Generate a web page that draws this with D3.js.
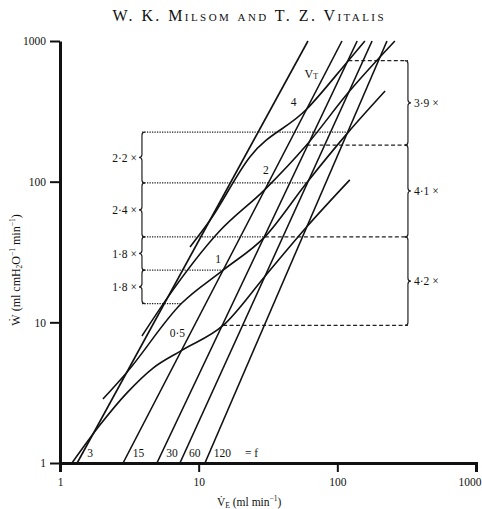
<!DOCTYPE html>
<html>
<head>
<meta charset="utf-8">
<script src="https://cdnjs.cloudflare.com/ajax/libs/d3/7.8.5/d3.min.js"></script>
<style>
  body { margin: 0; background: #fff; }
  svg { display: block; }
  text { font-family: "Liberation Serif", "DejaVu Serif", serif; fill: #111; }
</style>
</head>
<body>
<script>
// iso-frequency lines: VE where W = 1 and where W = 1000
var freqs = [3, 15, 30, 60, 120];
var freqVeLow = [1.33, 2.85, 5.0, 7.33, 11.1];
var freqVeHigh = [61.4, 108, 139, 178, 228];

// tidal volume curves
var vtNames = ["0·5", "1", "2", "4"];
var vt05VE = [1.22, 1.94, 3.04, 4.69, 7.5, 15, 30, 60, 123];
var vt05W  = [1, 1.86, 3.15, 4.73, 6.3, 9.5, 21.2, 47.6, 103];
var vt1VE  = [2.04, 3, 7.5, 15, 30, 60, 120, 221];
var vt1W   = [2.85, 4.35, 13.6, 23.5, 40.5, 98, 225, 441];
var vt2VE  = [3.9, 6, 14, 30, 60, 120, 260];
var vt2W   = [8.0, 15.1, 44, 87.8, 182, 430, 1000];
var vt4VE  = [8.66, 12, 23.4, 60, 120, 158];
var vt4W   = [34.3, 52.7, 150, 327, 725, 1000];

// ratio brackets (left: dotted, right: dashed)
var leftW = [225, 98, 40.5, 23.5, 13.6];
var leftEndVE = [120, 60, 30, 15, 7.5];
var leftRatios = ["2·2 ×", "2·4 ×", "1·8 ×", "1·8 ×"];
var rightW = [725, 182, 40.5, 9.5];
var rightStartVE = [120, 60, 30, 15];
var rightRatios = ["3·9 ×", "4·1 ×", "4·2 ×"];
var leftBraceVE = 3.9;
var rightBraceVE = 323;

var tickValues = [1, 10, 100, 1000];

var svgWidth = 482;
var svgHeight = 509;

var svg = d3.select("body")
            .append("svg")
            .attr("width", svgWidth)
            .attr("height", svgHeight);

var x = d3.scaleLog().domain([1, 1000]).range([60, 476]);
var y = d3.scaleLog().domain([1, 1000]).range([463, 41]);

// title
svg.append("text")
   .attr("x", 248)
   .attr("y", 20.5)
   .attr("text-anchor", "middle")
   .attr("font-size", "16px")
   .style("font-variant", "small-caps")
   .attr("textLength", 271)
   .attr("lengthAdjust", "spacing")
   .text("W. K. Milsom and T. Z. Vitalis");

// reference lines
var refGroup = svg.append("g");
leftW.forEach(function(w, i) {
    refGroup.append("line")
            .attr("x1", x(leftBraceVE)).attr("x2", x(leftEndVE[i]))
            .attr("y1", y(w)).attr("y2", y(w))
            .attr("stroke", "#222").attr("stroke-width", 1.3)
            .attr("stroke-dasharray", "1.3,1.2");
});
rightW.forEach(function(w, i) {
    refGroup.append("line")
            .attr("x1", x(rightStartVE[i])).attr("x2", x(rightBraceVE))
            .attr("y1", y(w)).attr("y2", y(w))
            .attr("stroke", "#222").attr("stroke-width", 1.2)
            .attr("stroke-dasharray", "4,2.5");
});

function brace(xp, y0, y1, dir) {
    var ym = (y0 + y1) / 2, h = 3, w = 3;
    return "M" + (xp - dir * w) + "," + y0 +
           " Q" + xp + "," + y0 + " " + xp + "," + (y0 + h) +
           " L" + xp + "," + (ym - h) +
           " Q" + xp + "," + ym + " " + (xp + dir * w) + "," + ym +
           " Q" + xp + "," + ym + " " + xp + "," + (ym + h) +
           " L" + xp + "," + (y1 - h) +
           " Q" + xp + "," + y1 + " " + (xp - dir * w) + "," + y1;
}

leftRatios.forEach(function(t, i) {
    var y0 = y(leftW[i]), y1 = y(leftW[i + 1]);
    refGroup.append("path")
            .attr("d", brace(x(leftBraceVE), y0, y1, -1))
            .attr("fill", "none").attr("stroke", "#222").attr("stroke-width", 1.2);
    refGroup.append("text")
            .attr("x", x(leftBraceVE) - 5)
            .attr("y", (y0 + y1) / 2 + 4)
            .attr("text-anchor", "end")
            .attr("font-size", "11.5px")
            .text(t);
});
rightRatios.forEach(function(t, i) {
    var y0 = y(rightW[i]), y1 = y(rightW[i + 1]);
    refGroup.append("path")
            .attr("d", brace(x(rightBraceVE), y0, y1, 1))
            .attr("fill", "none").attr("stroke", "#222").attr("stroke-width", 1.2);
    refGroup.append("text")
            .attr("x", x(rightBraceVE) + 6)
            .attr("y", (y0 + y1) / 2 + 4)
            .attr("text-anchor", "start")
            .attr("font-size", "11.5px")
            .text(t);
});

// iso-frequency lines
var chartGroup = svg.append("g");
chartGroup.selectAll("line.freq")
          .data(freqs)
          .enter()
          .append("line")
          .attr("class", "freq")
          .attr("x1", (d, i) => x(freqVeLow[i]))
          .attr("y1", y(1))
          .attr("x2", (d, i) => x(freqVeHigh[i]))
          .attr("y2", y(1000))
          .attr("stroke", "#111")
          .attr("stroke-width", 1.6);

// labels at the foot of each f line
var labelW = y.invert(452);
freqs.forEach(function(f, i) {
    var t = Math.log10(labelW) / 3;
    var ve = freqVeLow[i] * Math.pow(freqVeHigh[i] / freqVeLow[i], t);
    chartGroup.append("text")
              .attr("x", x(ve) + 4)
              .attr("y", 457)
              .attr("font-size", "11.5px")
              .text(f);
});
chartGroup.append("text")
          .attr("x", 245)
          .attr("y", 457)
          .attr("font-size", "11.5px")
          .text("= f");

// VT curves
var curves = [
    {ve: vt05VE, w: vt05W},
    {ve: vt1VE, w: vt1W},
    {ve: vt2VE, w: vt2W},
    {ve: vt4VE, w: vt4W}
];
var line = d3.line()
             .x(d => x(d[0]))
             .y(d => y(d[1]))
             .curve(d3.curveMonotoneX);
chartGroup.selectAll("path.vt")
          .data(curves)
          .enter()
          .append("path")
          .attr("class", "vt")
          .attr("d", c => line(d3.zip(c.ve, c.w)))
          .attr("fill", "none")
          .attr("stroke", "#111")
          .attr("stroke-width", 1.6);

// curve labels, placed next to where each curve crosses the 15 line
var vtLabelAt = [[7.5, 6.3, -4, -14], [15, 23.5, -5, -7], [30, 87.8, 1, -16], [60, 327, -13, -3]];
vtNames.forEach(function(n, i) {
    var p = vtLabelAt[i];
    chartGroup.append("text")
              .attr("x", x(p[0]) + p[2])
              .attr("y", y(p[1]) + p[3])
              .attr("text-anchor", "middle")
              .attr("font-size", "11.5px")
              .text(n);
});
var vtText = chartGroup.append("text")
                       .attr("x", x(58))
                       .attr("y", y(545))
                       .attr("font-size", "12px");
vtText.append("tspan").text("V");
vtText.append("tspan").attr("font-size", "8px").attr("dy", 1).text("T");

// axes
var leftAxis = d3.axisLeft(y)
                 .tickValues(tickValues)
                 .tickFormat(d3.format("d"))
                 .tickSize(10)
                 .tickSizeOuter(0)
                 .tickPadding(4);
var bottomAxis = d3.axisBottom(x)
                   .tickValues(tickValues)
                   .tickFormat(d3.format("d"))
                   .tickSize(9)
                   .tickPadding(6);

var yAxisG = svg.append("g")
                .attr("transform", "translate(60,0)")
                .call(leftAxis);
var xAxisG = svg.append("g")
                .attr("transform", "translate(0,463)")
                .call(bottomAxis);

[yAxisG, xAxisG].forEach(function(g) {
    g.attr("font-family", null).attr("font-size", null);
    g.select(".domain").attr("stroke", "#111").attr("stroke-width", 3);
    g.selectAll(".tick line").attr("stroke", "#111").attr("stroke-width", 2);
    g.selectAll(".tick text").attr("font-size", "11.5px").attr("fill", "#111");
});
// the last x label sits against the page edge
xAxisG.selectAll(".tick text")
      .filter(d => d === 1000)
      .attr("text-anchor", "end")
      .attr("x", 5);

// axis titles
var xTitle = svg.append("text")
                .attr("x", 217)
                .attr("y", 506)
                .attr("font-size", "11.5px");
xTitle.append("tspan").text("V\u0307");
xTitle.append("tspan").attr("font-size", "7.5px").attr("dy", 1.5).text("E");
xTitle.append("tspan").attr("dy", -1.5).text(" (ml min");
xTitle.append("tspan").attr("font-size", "7.5px").attr("dy", -5).text("\u22121");
xTitle.append("tspan").attr("dy", 5).text(")");

var yTitle = svg.append("text")
                .attr("transform", "translate(20,270) rotate(-90)")
                .attr("text-anchor", "middle")
                .attr("font-size", "12px");
yTitle.append("tspan").text("\u1E86 (ml cmH");
yTitle.append("tspan").attr("font-size", "7.5px").attr("dy", 2).text("2");
yTitle.append("tspan").attr("dy", -2).text("O");
yTitle.append("tspan").attr("font-size", "7.5px").attr("dy", -5).text("\u22121");
yTitle.append("tspan").attr("dy", 5).text(" min");
yTitle.append("tspan").attr("font-size", "7.5px").attr("dy", -5).text("\u22121");
yTitle.append("tspan").attr("dy", 5).text(")");
</script>
</body>
</html>
